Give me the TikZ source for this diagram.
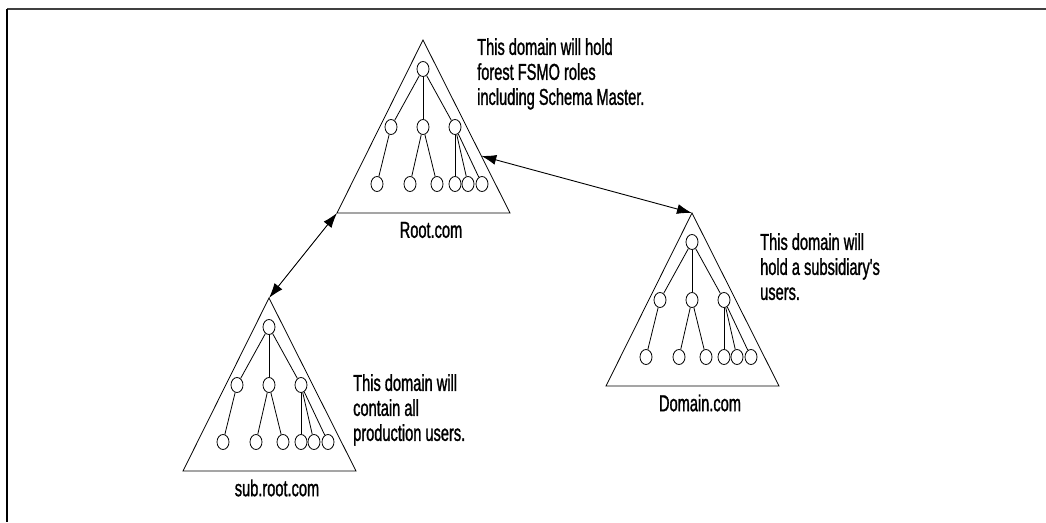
\documentclass[tikz,border=0pt]{standalone}
\usepackage{fontspec}
\setmainfont{Liberation Sans}[FakeStretch=0.635,FakeBold=1.2,Ligatures=TeXOff]
\usetikzlibrary{arrows.meta}
\usetikzlibrary{calc}
\usetikzlibrary{shapes.geometric}

\begin{document}
\begin{tikzpicture}[x=1pt,y=-1pt,
    leaf/.style={draw,ellipse,minimum width=12pt,minimum height=15pt,inner sep=0pt,line width=0.8pt},
    note/.style={align=left,anchor=north west,inner sep=0pt,font=\fontsize{23}{25}\selectfont},
    dname/.style={inner sep=0pt,font=\fontsize{23}{25}\selectfont},
    link/.style={{Latex[length=15pt,width=10pt]}-{Latex[length=15pt,width=10pt]},line width=0.9pt}]
      \useasboundingbox (0,0) rectangle (1046,522);
      \draw[line width=2pt,black!75] (7,9) -- (1046,9);
      \draw[line width=1.6pt] (7,9) -- (7,522);
      \foreach \t/\ax/\ay/\dn in {r/423/40/Root.com, s/269/298/sub.root.com, d/692/213/Domain.com}{
        \begin{scope}[shift={(\ax,\ay)}]
          \coordinate (\t-apex) at (0,0);
          \coordinate (\t-bl) at (-86,173);
          \coordinate (\t-br) at (87,173);
          \draw[line width=0.8pt] (\t-apex) -- (\t-br) -- (\t-bl) -- cycle;
          \node[leaf] (\t-top) at (0,29) {};
          \node[leaf] (\t-a) at (-32,87) {};
          \node[leaf] (\t-b) at (0,87) {};
          \node[leaf] (\t-c) at (32,87) {};
          \node[leaf] (\t-a1) at (-46,144) {};
          \node[leaf] (\t-b1) at (-13,144) {};
          \node[leaf] (\t-b2) at (14,144) {};
          \node[leaf] (\t-c1) at (32,144) {};
          \node[leaf] (\t-c2) at (45,144) {};
          \node[leaf] (\t-c3) at (59,144) {};
          \draw[line width=0.8pt] (\t-top) -- (\t-a);
          \draw[line width=0.8pt] (\t-top) -- (\t-b);
          \draw[line width=0.8pt] (\t-top) -- (\t-c);
          \draw[line width=0.8pt] (\t-a) -- (\t-a1);
          \draw[line width=0.8pt] (\t-b) -- (\t-b1);
          \draw[line width=0.8pt] (\t-b) -- (\t-b2);
          \draw[line width=0.8pt] (\t-c) -- (\t-c1);
          \draw[line width=0.8pt] (\t-c) -- (\t-c2);
          \draw[line width=0.8pt] (\t-c) -- (\t-c3);
          \node[dname] (\t-name) at (8,190) {\dn};
        \end{scope}
      }
      \node[note] (rnote) at (477,38) {This domain will hold\\forest FSMO roles\\including Schema Master.};
      \node[note] (snote) at (353,374) {This domain will\\contain all\\production users.};
      \node[note] (dnote) at (760,233) {This domain will\\hold a subsidiary's\\users.};
      \coordinate (r-edge) at ($(r-apex)!0.67!(r-br)$);
      \draw[link] (r-edge) -- (d-apex);
      \draw[link] (r-bl) -- (s-apex);
    \end{tikzpicture}
\end{document}
